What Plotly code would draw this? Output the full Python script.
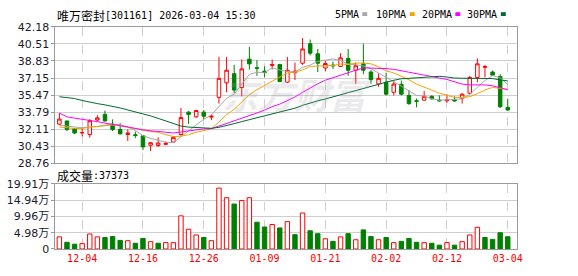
import plotly.graph_objects as go

# ---------------- data ----------------
dates = ["12-01","12-02","12-03","12-04","12-05","12-08","12-09","12-10","12-11","12-12",
         "12-15","12-16","12-17","12-18","12-19","12-22","12-23","12-24","12-25","12-26",
         "12-29","12-30","12-31","01-05","01-06","01-07","01-08","01-09","01-12","01-13",
         "01-14","01-15","01-16","01-19","01-20","01-21","01-22","01-23","01-26","01-27",
         "01-28","01-29","01-30","02-02","02-03","02-04","02-05","02-06","02-09","02-10",
         "02-11","02-12","02-13","02-24","02-25","02-26","02-27","03-02","03-03","03-04"]

open_ = [32.61,32.92,32.18,31.75,31.59,33.02,33.57,32.61,32.08,31.59,
         31.56,31.46,30.53,30.50,30.62,30.84,31.59,33.79,33.33,33.79,
         33.30,35.25,36.68,37.58,36.22,39.01,38.17,37.83,38.39,38.48,
         36.74,37.68,38.61,40.53,39.54,38.14,38.42,38.30,39.08,37.92,
         38.55,37.74,36.56,36.74,35.75,36.53,35.44,34.91,34.97,35.35,
         34.97,34.91,35.00,35.13,35.66,37.21,38.20,37.74,37.30,34.26]
high = [33.70,32.95,32.24,32.33,33.11,33.48,33.95,33.08,32.71,32.08,
        31.87,31.53,30.84,31.31,30.90,31.46,34.20,33.89,34.01,34.01,
        33.58,39.23,39.23,38.45,38.98,40.22,38.92,38.30,38.98,38.55,
        39.23,38.67,41.09,40.94,40.01,38.86,38.76,39.60,40.01,38.67,
        40.53,37.92,37.61,37.68,36.90,36.90,35.97,35.13,35.87,35.44,
        35.44,35.56,35.35,35.66,37.37,39.08,38.45,37.89,37.52,35.10]
low = [32.52,31.93,31.62,31.40,31.28,32.86,32.86,31.93,31.62,30.96,
       31.25,30.06,29.97,30.37,30.53,30.78,31.46,32.64,33.23,33.08,
       33.02,34.63,35.75,35.66,35.35,37.99,37.37,37.21,37.99,36.74,
       36.68,36.96,38.45,39.38,37.74,37.83,38.05,38.23,37.37,36.59,
       37.52,36.59,36.28,35.44,35.44,35.44,34.51,34.26,34.94,35.04,
       34.82,34.72,34.82,34.63,35.56,36.74,37.21,37.37,34.20,33.89]
close = [33.11,32.08,31.74,31.78,32.95,33.23,32.92,32.08,31.65,31.74,
         31.50,30.37,30.78,30.75,30.72,31.31,33.26,33.57,33.95,33.39,
         33.39,37.12,37.92,35.97,38.05,38.55,38.11,37.68,38.48,36.81,
         37.92,37.83,40.01,39.60,38.61,38.58,38.36,39.14,37.92,38.36,
         37.92,36.99,37.12,35.56,36.56,35.56,34.63,34.85,35.35,35.10,
         34.91,35.00,34.91,35.56,37.21,38.55,38.27,37.43,34.32,34.01]

volume = [36900,20400,14600,16500,45700,36900,35000,37900,26200,25300,
          17500,32100,22400,17500,19400,19400,101100,60300,42800,35000,
          25300,185700,156500,137100,147700,156500,81600,67100,74800,64200,
          83600,43700,109800,55400,46700,31100,23300,36900,46700,28200,
          58300,37900,28200,35000,19400,23300,32100,20400,19400,17500,
          11700,19400,11700,22400,42800,66100,35000,29200,49600,37373]
vol_dir = list("rggrrrgggr" "ggrgrrrrrg" "rrrgrrggrg" "rgrggrgrgr" "ggrgrgggrg" "grgrrrgggg")

ma5 = [32.50,32.40,32.30,32.25,32.33,32.36,32.52,32.59,32.57,32.32,
       31.98,31.47,31.21,31.03,30.82,30.79,31.36,31.92,32.56,33.10,
       33.51,34.28,35.15,35.56,36.49,37.52,37.72,37.67,38.17,37.93,
       37.80,37.74,38.21,38.43,38.79,38.93,39.03,38.86,38.52,38.47,
       38.34,38.07,37.66,37.19,36.83,36.36,35.89,35.43,35.39,35.10,
       34.97,35.04,35.05,35.10,35.52,36.25,36.90,37.40,37.16,36.52]
ma10 = [32.33,32.24,32.18,32.18,32.33,32.39,32.45,32.52,32.45,32.33,
        32.17,32.00,31.90,31.80,31.57,31.38,31.42,31.57,31.80,31.96,
        32.15,32.82,33.54,34.06,34.79,35.52,36.00,36.41,36.87,37.21,
        37.66,37.73,37.94,38.30,38.36,38.36,38.39,38.53,38.48,38.63,
        38.63,38.55,38.26,37.86,37.65,37.35,36.98,36.55,36.29,35.96,
        35.66,35.46,35.24,35.24,35.31,35.61,35.97,36.23,36.13,36.02]
ma20 = [33.70,33.33,33.20,33.11,33.02,32.86,32.71,32.61,32.46,32.33,
        32.18,32.05,31.96,31.90,31.80,31.74,31.84,31.96,32.05,32.14,
        32.16,32.41,32.72,32.93,33.18,33.45,33.71,33.99,34.33,34.58,
        34.91,35.28,35.74,36.18,36.58,36.94,37.20,37.47,37.67,37.92,
        38.15,38.14,38.10,38.08,38.01,37.86,37.68,37.54,37.38,37.30,
        37.15,37.01,36.75,36.55,36.48,36.48,36.47,36.39,36.21,35.99]
ma30 = [35.31,35.25,35.13,34.94,34.76,34.63,34.51,34.38,34.20,34.01,
        33.82,33.64,33.42,33.18,32.92,32.62,32.42,32.32,32.26,32.24,
        32.20,32.30,32.46,32.66,32.86,33.04,33.22,33.42,33.62,33.83,
        33.99,34.18,34.46,34.72,34.91,35.09,35.27,35.50,35.71,35.93,
        36.15,36.37,36.58,36.74,36.93,37.08,37.12,37.16,37.21,37.27,
        37.32,37.25,37.15,37.13,37.11,37.11,37.11,37.10,36.96,36.87]

x_labels = ["12-04","12-16","12-26","01-09","01-21","02-02","02-12","03-04"]
price_ticks = ["28.76","30.43","32.11","33.79","35.47","37.15","38.83","40.51","42.18"]
vol_ticks = ["0","4.98万","9.96万","14.94万","19.91万"]
vol_max = 199140

for arr in (open_, high, low, close, volume, vol_dir, ma5, ma10, ma20, ma30):
    assert len(arr) == len(dates), len(arr)

# ---------------- figure ----------------
RED = "#ff0000"
GREEN = "#008000"
idx = list(range(len(dates)))
tickvals = [dates.index(d) for d in x_labels]

fig = go.Figure()
fig.add_trace(go.Candlestick(
    x=idx, open=open_, high=high, low=low, close=close,
    increasing=dict(line=dict(color=RED, width=1), fillcolor="white"),
    decreasing=dict(line=dict(color=GREEN, width=1), fillcolor=GREEN),
    whiskerwidth=0, hoverinfo="skip", xaxis="x", yaxis="y", showlegend=False))

for vals, col in ((ma5, "#a8a8a8"), (ma10, "#f5a300"), (ma20, "#ff00ff"), (ma30, "#006a30")):
    fig.add_trace(go.Scatter(x=idx, y=vals, mode="lines", line=dict(color=col, width=1),
                             hoverinfo="skip", showlegend=False, xaxis="x", yaxis="y"))

fig.add_trace(go.Bar(
    x=idx, y=volume, width=0.58,
    marker=dict(color=["white" if d == "r" else GREEN for d in vol_dir],
                line=dict(color=[RED if d == "r" else GREEN for d in vol_dir], width=1)),
    hoverinfo="skip", showlegend=False, xaxis="x2", yaxis="y2"))

W, H = 578, 276
L, R = 56, 522
xr = [-0.52, 60.16]
xdom = [L / W, R / W]

axis_common = dict(showline=True, mirror=True, linecolor="#9a9a9a", linewidth=1,
                   zeroline=False, fixedrange=True)

fig.update_layout(
    width=W, height=H, autosize=False,
    margin=dict(l=0, r=0, t=0, b=0),
    paper_bgcolor="white", plot_bgcolor="white",
    boxgap=0.34,
    xaxis=dict(domain=xdom, range=xr, tickvals=tickvals, showticklabels=False,
               showgrid=True, gridcolor="#d0d0d0", griddash="dash", gridwidth=1,
               ticks="", rangeslider=dict(visible=False), anchor="y", **axis_common),
    yaxis=dict(domain=[(H - 165) / H, (H - 22) / H], range=[28.76, 42.18],
               tickvals=[float(t) for t in price_ticks], ticktext=price_ticks,
               showgrid=True, gridcolor="#cfcfcf", gridwidth=1,
               ticks="outside", ticklen=3, tickcolor="#9a9a9a",
               tickfont=dict(family="DejaVu Sans", size=11, color="#1a1a2a"),
               anchor="x", **axis_common),
    xaxis2=dict(domain=xdom, range=xr, tickvals=tickvals, ticktext=x_labels,
                showgrid=True, gridcolor="#d0d0d0", griddash="dash", gridwidth=1,
                ticks="", tickfont=dict(family="DejaVu Sans Mono", size=10, color=RED),
                anchor="y2", **axis_common),
    yaxis2=dict(domain=[(H - 255) / H, (H - 186.5) / H], range=[0, vol_max],
                tickvals=[vol_max * k / 4 for k in range(5)], ticktext=vol_ticks,
                showgrid=True, gridcolor="#cfcfcf", gridwidth=1,
                ticks="outside", ticklen=3, tickcolor="#9a9a9a",
                tickfont=dict(family="DejaVu Sans, Noto Sans CJK SC", size=11, color="#1a1a2a"),
                anchor="x2", **axis_common),
)

def px(x):
    return x / W

def py(y):
    return (H - y) / H

ann = []
# title
ann.append(dict(x=px(56), y=py(10), text="唯万密封", xanchor="left", yanchor="middle",
                font=dict(family="Noto Sans CJK SC", size=12, color="black")))
ann.append(dict(x=px(104), y=py(10), text="[301161] 2026-03-04 15:30", xanchor="left", yanchor="middle",
                font=dict(family="DejaVu Sans Mono", size=10, color="black")))
# volume caption
ann.append(dict(x=px(56), y=py(178), text="成交量", xanchor="left", yanchor="middle",
                font=dict(family="Noto Sans CJK SC", size=12, color="black")))
ann.append(dict(x=px(92), y=py(178), text=":" + str(volume[-1]), xanchor="left", yanchor="middle",
                font=dict(family="DejaVu Sans Mono", size=10, color="black")))
# legend
legend_items = [("5PMA", "#a8a8a8", 336), ("10PMA", "#f5a300", 378),
                ("20PMA", "#ff00ff", 424), ("30PMA", "#006a30", 470)]
shapes = []
for name, col, x0 in legend_items:
    ann.append(dict(x=px(x0), y=py(9), text=name, xanchor="left", yanchor="middle",
                    font=dict(family="DejaVu Sans Mono", size=10, color="black")))
    sx = x0 + len(name) * 6.02 + 6
    shapes.append(dict(type="rect", xref="paper", yref="paper", x0=px(sx), x1=px(sx + 5),
                       y0=py(10.5), y1=py(6.5), fillcolor=col, line=dict(width=0)))
# watermark
ann.append(dict(x=px(300), y=py(91), text="东方财富", xanchor="center", yanchor="middle",
                font=dict(family="Noto Sans CJK SC", size=36, color="rgba(160,160,170,0.22)",
                          weight=700, style="italic")))
for a in ann:
    a.update(xref="paper", yref="paper", showarrow=False)

fig.update_layout(annotations=ann, shapes=shapes)
fig.write_html("out.html")
